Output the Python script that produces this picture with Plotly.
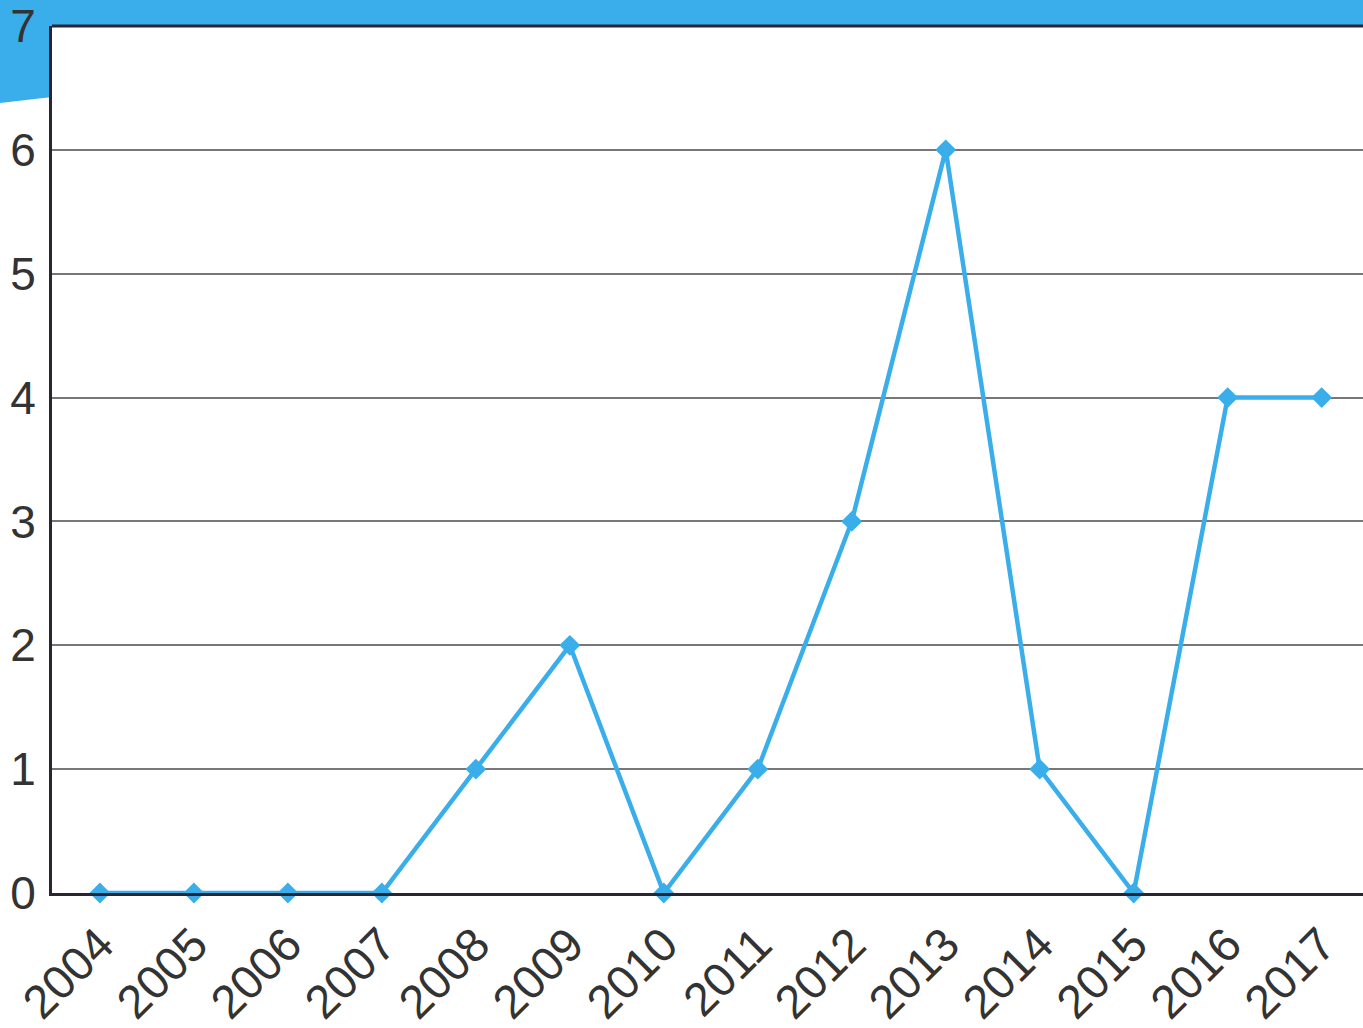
import plotly.graph_objects as go

years = ["2004", "2005", "2006", "2007", "2008", "2009", "2010",
         "2011", "2012", "2013", "2014", "2015", "2016", "2017"]
counts = [0, 0, 0, 0, 1, 2, 0, 1, 3, 6, 1, 0, 4, 4]
y_ticks = [0, 1, 2, 3, 4, 5, 6, 7]

W, H = 1363, 1028
L, R, T, B = 52, 0, 26, 135
pw, ph = W - L - R, H - T - B

def px(x):
    return (x - L) / pw

def py(y):
    return (H - B - y) / ph

blue = "#3aaeea"
fig = go.Figure()
fig.add_trace(go.Scatter(
    x=years, y=counts, mode="lines+markers",
    line=dict(color=blue, width=4.5),
    marker=dict(symbol="diamond", size=16, color=blue),
    cliponaxis=False,
))

fig.update_layout(
    width=W, height=H,
    margin=dict(l=L, r=R, t=T, b=B),
    paper_bgcolor="white", plot_bgcolor="white",
    showlegend=False,
    font=dict(family="Liberation Sans, Arial, sans-serif", color="#333333"),
    xaxis=dict(
        type="category", range=[-0.51, 13.44],
        showgrid=False, showline=True, linecolor="#2b2533", linewidth=3,
        ticks="", tickangle=-45, tickfont=dict(size=47), ticklabelstandoff=2,
    ),
    yaxis=dict(
        range=[0, 7], tickvals=y_ticks, ticktext=[str(v) for v in y_ticks],
        showgrid=True, gridcolor="#777777", gridwidth=2, zeroline=False,
        showline=True, linecolor="#2b2533", linewidth=3,
        ticks="", tickfont=dict(size=46), ticklabelstandoff=4,
    ),
    shapes=[
        dict(type="path", xref="paper", yref="paper", layer="below",
             path=f"M {px(0)},{py(0)} L {px(W)},{py(0)} L {px(W)},{py(26)} L {px(52)},{py(26)} L {px(52)},{py(97)} L {px(0)},{py(103)} Z",
             fillcolor=blue, line=dict(width=0)),
        dict(type="line", xref="paper", yref="paper", layer="above",
             x0=0, x1=1.01, y0=1, y1=1, line=dict(color="#2b2533", width=3)),
    ],
)

fig.write_html("out.html", config={"displayModeBar": False},
               post_script="document.body.style.margin='0';document.body.style.overflow='hidden';")
